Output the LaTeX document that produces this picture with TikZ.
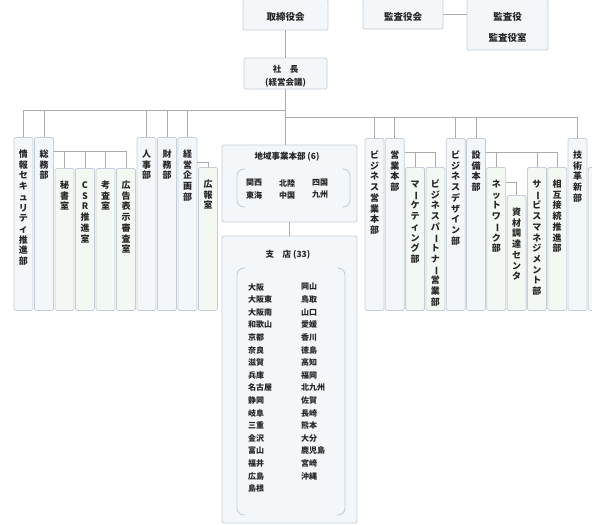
\documentclass[tikz,border=0pt]{standalone}
\usepackage{fontspec}
\setmainfont{Noto Sans CJK JP}
\usepackage{graphicx}
\usepackage{tikz}
\definecolor{boxline}{HTML}{C5CED8}
\definecolor{boxfill}{HTML}{F3F7FA}
\definecolor{subfill}{HTML}{F4F8F2}
\definecolor{wirecol}{HTML}{ABABAB}
\definecolor{ink}{HTML}{262626}
\tikzset{
  orgbox/.style={draw=boxline,fill=boxfill,rounded corners=1.5pt,line width=0.8pt,inner sep=0pt},
  colbox/.style={orgbox,anchor=north,minimum width=19pt},
  subbox/.style={colbox,fill=subfill},
  toplbl/.style={text=ink,inner sep=0pt,font=\fontsize{9.5}{13}\selectfont\bfseries},
  tatelbl/.style={text=ink,inner sep=0pt,anchor=north,font=\fontsize{9}{11}\selectfont\bfseries},
  listlbl/.style={text=ink,inner sep=0pt,anchor=west,font=\fontsize{8}{10}\selectfont\bfseries},
  wire/.style={draw=wirecol,line width=0.8pt},
  bracket/.style={draw=boxline,line width=0.9pt,rounded corners=7pt}
}
% one character under the other, for the column boxes
\newcommand\tatechar[1]{\hbox to 1em{\hss\rule[-2.4pt]{0pt}{10.7pt}\ifx ー#1\rotatebox[origin=c]{-90}{ー}\else #1\fi\hss}}
\def\tatei#1{\ifx\relax#1\else\tatechar{#1}\expandafter\tatei\fi}
\newcommand\tate[1]{\vbox{\offinterlineskip\expandafter\tatei#1\relax}}

\begin{document}
\begin{tikzpicture}[x=1pt,y=-1pt]
\useasboundingbox (0,0) rectangle (592,525);
% board, auditors
\node[orgbox,minimum width=85pt,minimum height=31pt] (torishimari) at (285.5,14.5) {};
\node[toplbl] (torishimari-t) at (285.5,16.5) {取締役会};
\node[orgbox,minimum width=80pt,minimum height=30pt] (kansakai) at (403,14) {};
\node[toplbl] (kansakai-t) at (403,16.5) {監査役会};
\node[orgbox,minimum width=81pt,minimum height=51pt] (kansayaku) at (507.5,24.5) {};
\node[toplbl] (kansayaku-a) at (507.5,17) {監査役};
\node[toplbl] (kansayaku-b) at (507.5,38) {監査役室};
\draw[wire] (kansakai.east) -- (kansakai.east -| kansayaku.west);
% president
\node[orgbox,minimum width=83pt,minimum height=31pt] (shacho) at (285.5,73.5) {};
\node[toplbl,align=center,font=\fontsize{8.5}{13}\selectfont\bfseries] (shacho-t) at (285.5,76.5) {社　長\\(経営会議)};
\draw[wire] (torishimari.south) -- (shacho.north);
% columns
\foreach \nm/\st/\xl/\tp/\txt in {joho/colbox/14/137/情報セキュリティ推進部, somu/colbox/34.5/137/総務部,
    hisho/subbox/55/168/秘書室, csr/subbox/75.5/168/CSR推進室, kosa/subbox/96/168/考査室,
    kokoku/subbox/116.5/168/広告表示審査室, jinji/colbox/137/137/人事部, zaimu/colbox/157.5/137/財務部,
    keiei/colbox/178/137/経営企画部, koho/subbox/198.5/167/広報室,
    bizeigyo/colbox/365/138/ビジネス営業本部, eigyo/colbox/385.3/138/営業本部,
    marke/subbox/405.6/167/マーケティング部, partner/subbox/425.9/167/ビジネスパートナー営業部,
    design/colbox/446.2/138/ビジネスデザイン部, setsubi/colbox/466.5/138/設備本部,
    network/subbox/486.8/167/ネットワーク部, shizai/subbox/507.1/195/資材調達センタ,
    service/subbox/527.4/167/サービスマネジメント部, sogo/subbox/547.7/167/相互接続推進部,
    gijutsu/colbox/568/138/技術革新部}{
  \node[\st,minimum height={310-\tp}] (\nm) at (\xl+9.5,\tp) {};
  \node[tatelbl] (\nm-t) at ([yshift=-12pt]\nm.north) {\tate{\txt}};
}
\node[subbox,minimum height=143pt] (nextcol) at (597.8,167) {};
% buses
\coordinate (lhub) at (285.5,110);
\coordinate (rhub) at (285.5,117);
\foreach \nm in {joho,somu,jinji,zaimu,keiei} \draw[wire] (lhub) -| (\nm.north);
\foreach \nm in {bizeigyo,eigyo,design,setsubi,gijutsu} \draw[wire] (rhub) -| (\nm.north);
\foreach \nm in {hisho,csr,kosa,kokoku} \draw[wire] ([yshift=-14pt]somu.north east) -| (\nm.north);
\draw[wire] ([yshift=-25pt]keiei.north east) -| (koho.north);
\foreach \nm in {marke,partner} \draw[wire] ([yshift=-14pt]eigyo.north east) -| (\nm.north);
\foreach \nm in {network,service,sogo} \draw[wire] ([yshift=-14pt]setsubi.north east) -| (\nm.north);
\draw[wire] ([yshift=-15pt]network.north east) -| (shizai.north);
% regions
\node[orgbox,minimum width=135pt,minimum height=77pt] (chiiki) at (289.5,183.5) {};
\draw[wire] (shacho.south) -- (shacho.south |- chiiki.north);
\node[listlbl,anchor=center,font=\fontsize{8.5}{10}\selectfont\bfseries] (chiiki-t) at (287,157) {地域事業本部 (6)};
\draw[bracket] (245,169) -- (237,169) -- (237,207) -- (245,207);
\draw[bracket] (342,169) -- (350,169) -- (350,207) -- (342,207);
\foreach \nm/\x/\y/\txt in {kansai/254/183/関西, tokai/254/195/東海, hokuriku/287/183/北陸,
    chugoku/287/195/中国, shikoku/320/183/四国, kyushu/320/195/九州}
  \node[listlbl,anchor=center] (\nm) at (\x,\y) {\txt};
% branches
\node[orgbox,minimum width=135pt,minimum height=287pt] (shiten) at (289.5,379.5) {};
\draw[wire] (chiiki.south) -- (shiten.north);
\node[listlbl,anchor=center,font=\fontsize{8.5}{10}\selectfont\bfseries] (shiten-t) at (288,255) {支　店 (33)};
\draw[bracket] (245,268) -- (237,268) -- (237,515) -- (245,515);
\draw[bracket] (337,268) -- (345,268) -- (345,515) -- (337,515);
\foreach \txt [count=\i from 0] in {大阪,大阪東,大阪南,和歌山,京都,奈良,滋賀,兵庫,名古屋,静岡,岐阜,三重,金沢,富山,福井,広島,島根}
  \node[listlbl] (shitenL\i) at (248,287+12.6*\i) {\txt};
\foreach \txt [count=\i from 0] in {岡山,鳥取,山口,愛媛,香川,徳島,高知,福岡,北九州,佐賀,長崎,熊本,大分,鹿児島,宮崎,沖縄}
  \node[listlbl] (shitenR\i) at (301,287+12.6*\i) {\txt};
\end{tikzpicture}
\end{document}
